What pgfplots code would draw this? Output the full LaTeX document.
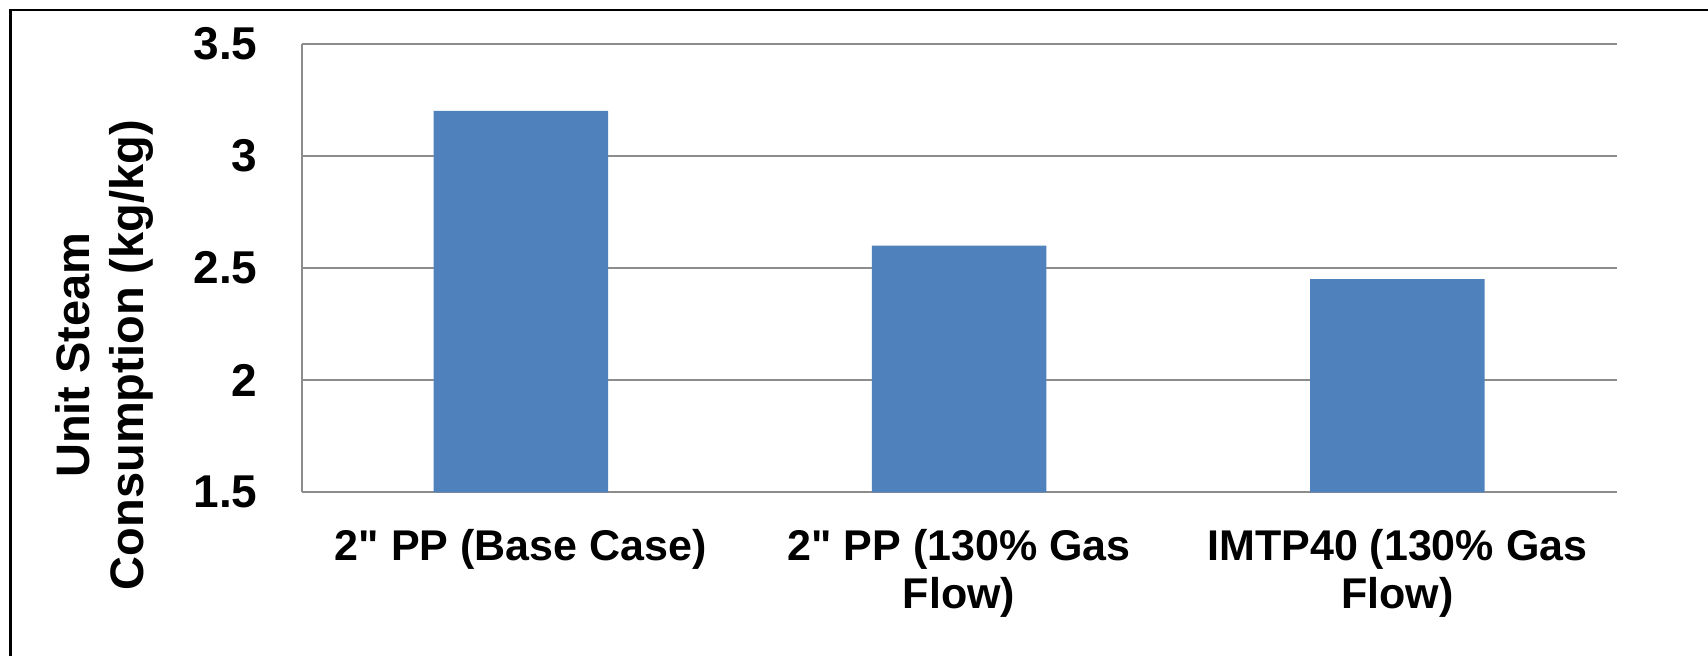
\documentclass[border=0pt]{standalone}
\usepackage{fontspec}
\setmainfont{Liberation Sans}
\usepackage{pgfplots}
\pgfplotsset{compat=1.18}
\definecolor{barblue}{HTML}{4F81BD}
\definecolor{gridgray}{RGB}{140,140,140}
\begin{document}
\begin{tikzpicture}
\begin{axis}[
  at={(150.85pt,81.8pt)}, anchor=south west,
  scale only axis, width=657.4pt, height=224.4pt,
  ymin=1.5, ymax=3.5, ytick={1.5,2,2.5,3,3.5},
  xmin=-0.5, xmax=2.5, xtick={0,1,2},
  xticklabels={{2\textquotedbl{} PP (Base Case)},{2\textquotedbl{} PP (130\% Gas\\Flow)},{IMTP40 (130\% Gas\\Flow)}},
  /pgf/number format/assume math mode=true,
  axis x line*=bottom, axis y line*=left,
  axis line style={-, draw=gridgray, line width=1pt},
  ymajorgrids, grid style={draw=gridgray, line width=1pt},
  major tick length=0pt,
  yticklabel style={font=\bfseries\fontsize{23}{27}\selectfont, anchor=east, inner sep=0pt, xshift=-21.9pt},
  xticklabel style={font=\bfseries\fontsize{21.5}{24}\selectfont, anchor=north, inner sep=0pt, yshift=-18.5pt, align=center},
  ylabel={Unit Steam\\Consumption (kg/kg)},
  ylabel style={font=\bfseries\fontsize{23.5}{27}\selectfont, align=center, at={(axis description cs:-0.1500,0.306)}, anchor=center, inner sep=0pt},
  ybar, bar width=87.2pt,
]
\addplot[fill=barblue, draw=none] coordinates {(0,3.2) (1,2.6) (2,2.45)};
\end{axis}
\draw[line width=1.25pt] (5.25pt,-5pt) -- (5.25pt,323pt) -- (860pt,323pt);
\pgfresetboundingbox
\path[use as bounding box] (0,0) rectangle (854pt,328pt);
\end{tikzpicture}
\end{document}
